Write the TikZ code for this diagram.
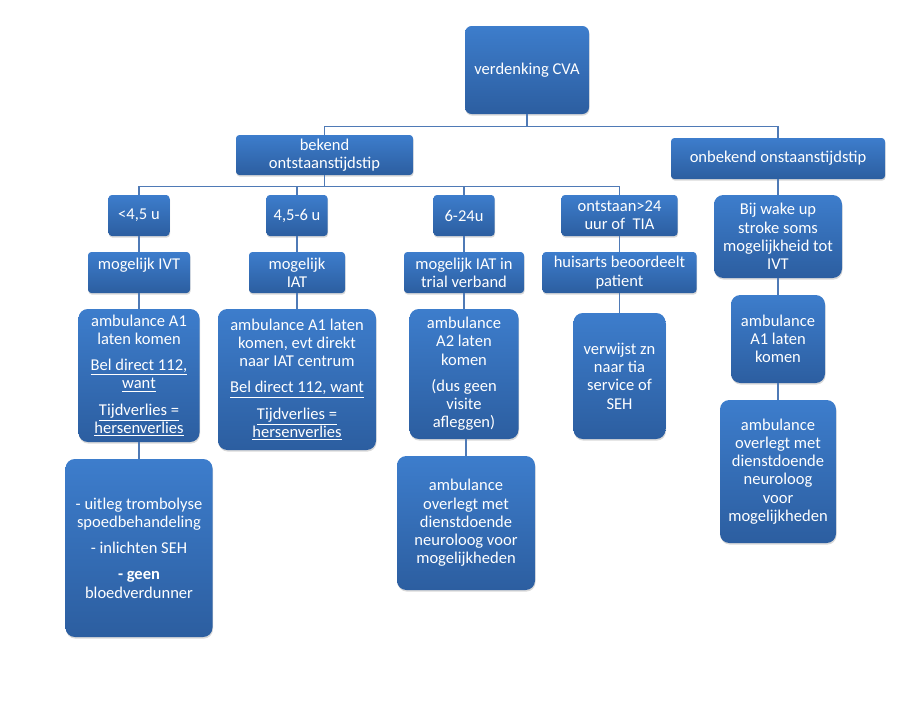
\documentclass[tikz,border=0pt]{standalone}
\usepackage{fontspec}
\setmainfont{Carlito}
\usetikzlibrary{shadows}
\definecolor{boxtop}{RGB}{61,125,204}
\definecolor{boxbot}{RGB}{44,94,160}
\definecolor{linkblue}{RGB}{79,122,182}

\begin{document}
\begin{tikzpicture}[x=0.75pt,y=-0.75pt,
    box/.style={top color=boxtop, bottom color=boxbot, rounded corners=2.5pt,
      text=white, align=center, inner sep=0pt, font=\fontsize{12.4}{13.7}\selectfont,
      drop shadow={opacity=0.3, shadow xshift=0.4pt, shadow yshift=-1.2pt}},
    tall/.style={box, rounded corners=7pt},
    link/.style={draw=linkblue, line width=0.8pt}]
        % Fix the size of the picture
        \useasboundingbox (0,0) rectangle (917,701);

        % Top of the tree
        \node[box, rounded corners=5pt, minimum width=93pt, minimum height=66pt] (cva) at (527,70) {verdenking CVA};
        \node[box, minimum width=132.75pt, minimum height=30pt] (bekend) at (324.5,155) {bekend\\ontstaanstijdstip};
        \node[box, minimum width=160.5pt, minimum height=30.75pt] (onbekend) at (778,158.5) {onbekend onstaanstijdstip};

        % Time windows
        \node[box, minimum width=45.75pt, minimum height=30.75pt] (lt45) at (139,215.5) {<4,5 u};
        \node[box, minimum width=45.75pt, minimum height=30.75pt] (r456) at (297,215.5) {4,5-6 u};
        \node[box, minimum width=45.75pt, minimum height=30.75pt] (r624) at (464,215.5) {6-24u};
        \node[box, minimum width=87pt, minimum height=30.75pt] (gt24) at (619.5,215.5) {ontstaan>24\\uur of~ TIA};
        \node[tall, minimum width=96pt, minimum height=62.25pt] (wake) at (778,236.5) {Bij wake up\\stroke soms\\mogelijkheid tot\\IVT};

        % Options
        \node[box, minimum width=76.5pt, minimum height=30.75pt] (ivt) at (139,272.5) {mogelijk IVT\\\mbox{}};
        \node[box, minimum width=72pt, minimum height=30.75pt] (iat) at (297,272.5) {mogelijk\\IAT};
        \node[box, minimum width=90pt, minimum height=30.75pt] (trial) at (464,272.5) {mogelijk IAT in\\trial verband};
        \node[box, minimum width=115.5pt, minimum height=30.75pt] (huisarts) at (619.5,272.5) {huisarts beoordeelt\\patient};

        % Actions
        \node[tall, minimum width=90.75pt, minimum height=99.75pt] (amb1) at (139,375.5)
          {ambulance A1\\laten komen\\[6pt]\underline{Bel direct 112,}\\\underline{want}\\[6pt]\underline{Tijdverlies =}\\\underline{hersenverlies}};
        \node[tall, minimum width=118.5pt, minimum height=105.75pt] (amb2) at (297,379.5)
          {ambulance A1 laten\\komen, evt direkt\\naar IAT centrum\\[6pt]\underline{Bel direct 112, want}\\[6pt]\underline{Tijdverlies =}\\\underline{hersenverlies}};
        \node[tall, minimum width=81.75pt, minimum height=97.5pt] (amb3) at (464,374)
          {ambulance\\A2 laten\\komen\\[6pt](dus geen\\visite\\afleggen)};
        \node[tall, minimum width=69pt, minimum height=94.5pt] (verw) at (619.5,376) {verwijst zn\\naar tia\\service of\\SEH};
        \node[tall, minimum width=70.5pt, minimum height=66pt] (amb5) at (778,339) {ambulance\\A1 laten\\komen};

        % Last row
        \node[tall, minimum width=110.25pt, minimum height=133.5pt] (uitleg) at (139,548)
          {- uitleg trombolyse\\spoedbehandeling\\[6pt]- inlichten SEH\\[6pt]\textbf{- geen}\\bloedverdunner};
        \node[tall, minimum width=103.5pt, minimum height=100.5pt] (overleg3) at (466,523)
          {ambulance\\overlegt met\\dienstdoende\\neuroloog voor\\mogelijkheden};
        \node[tall, minimum width=87pt, minimum height=107.25pt] (overleg5) at (778,471.5)
          {ambulance\\overlegt met\\dienstdoende\\neuroloog\\voor\\mogelijkheden};

        % Connectors
        \draw[link] (cva.south) -- ++(0,12) -| (bekend.north);
        \draw[link] (cva.south) -- ++(0,12) -| (onbekend.north);
        \foreach \n in {lt45,r456,r624,gt24}
          \draw[link] (bekend.south) -- ++(0,11) -| (\n.north);
        \draw[link] (onbekend) -- (wake);
        \draw[link] (wake) -- (amb5);
        \draw[link] (amb5) -- (overleg5);
        \draw[link] (lt45) -- (ivt);
        \draw[link] (ivt) -- (amb1);
        \draw[link] (amb1) -- (uitleg);
        \draw[link] (r456) -- (iat);
        \draw[link] (iat) -- (amb2);
        \draw[link] (r624) -- (trial);
        \draw[link] (trial) -- (amb3);
        \draw[link] (overleg3.north) -- (overleg3.north |- amb3.south);
        \draw[link] (gt24) -- (huisarts);
        \draw[link] (huisarts) -- (verw);
\end{tikzpicture}
\end{document}
